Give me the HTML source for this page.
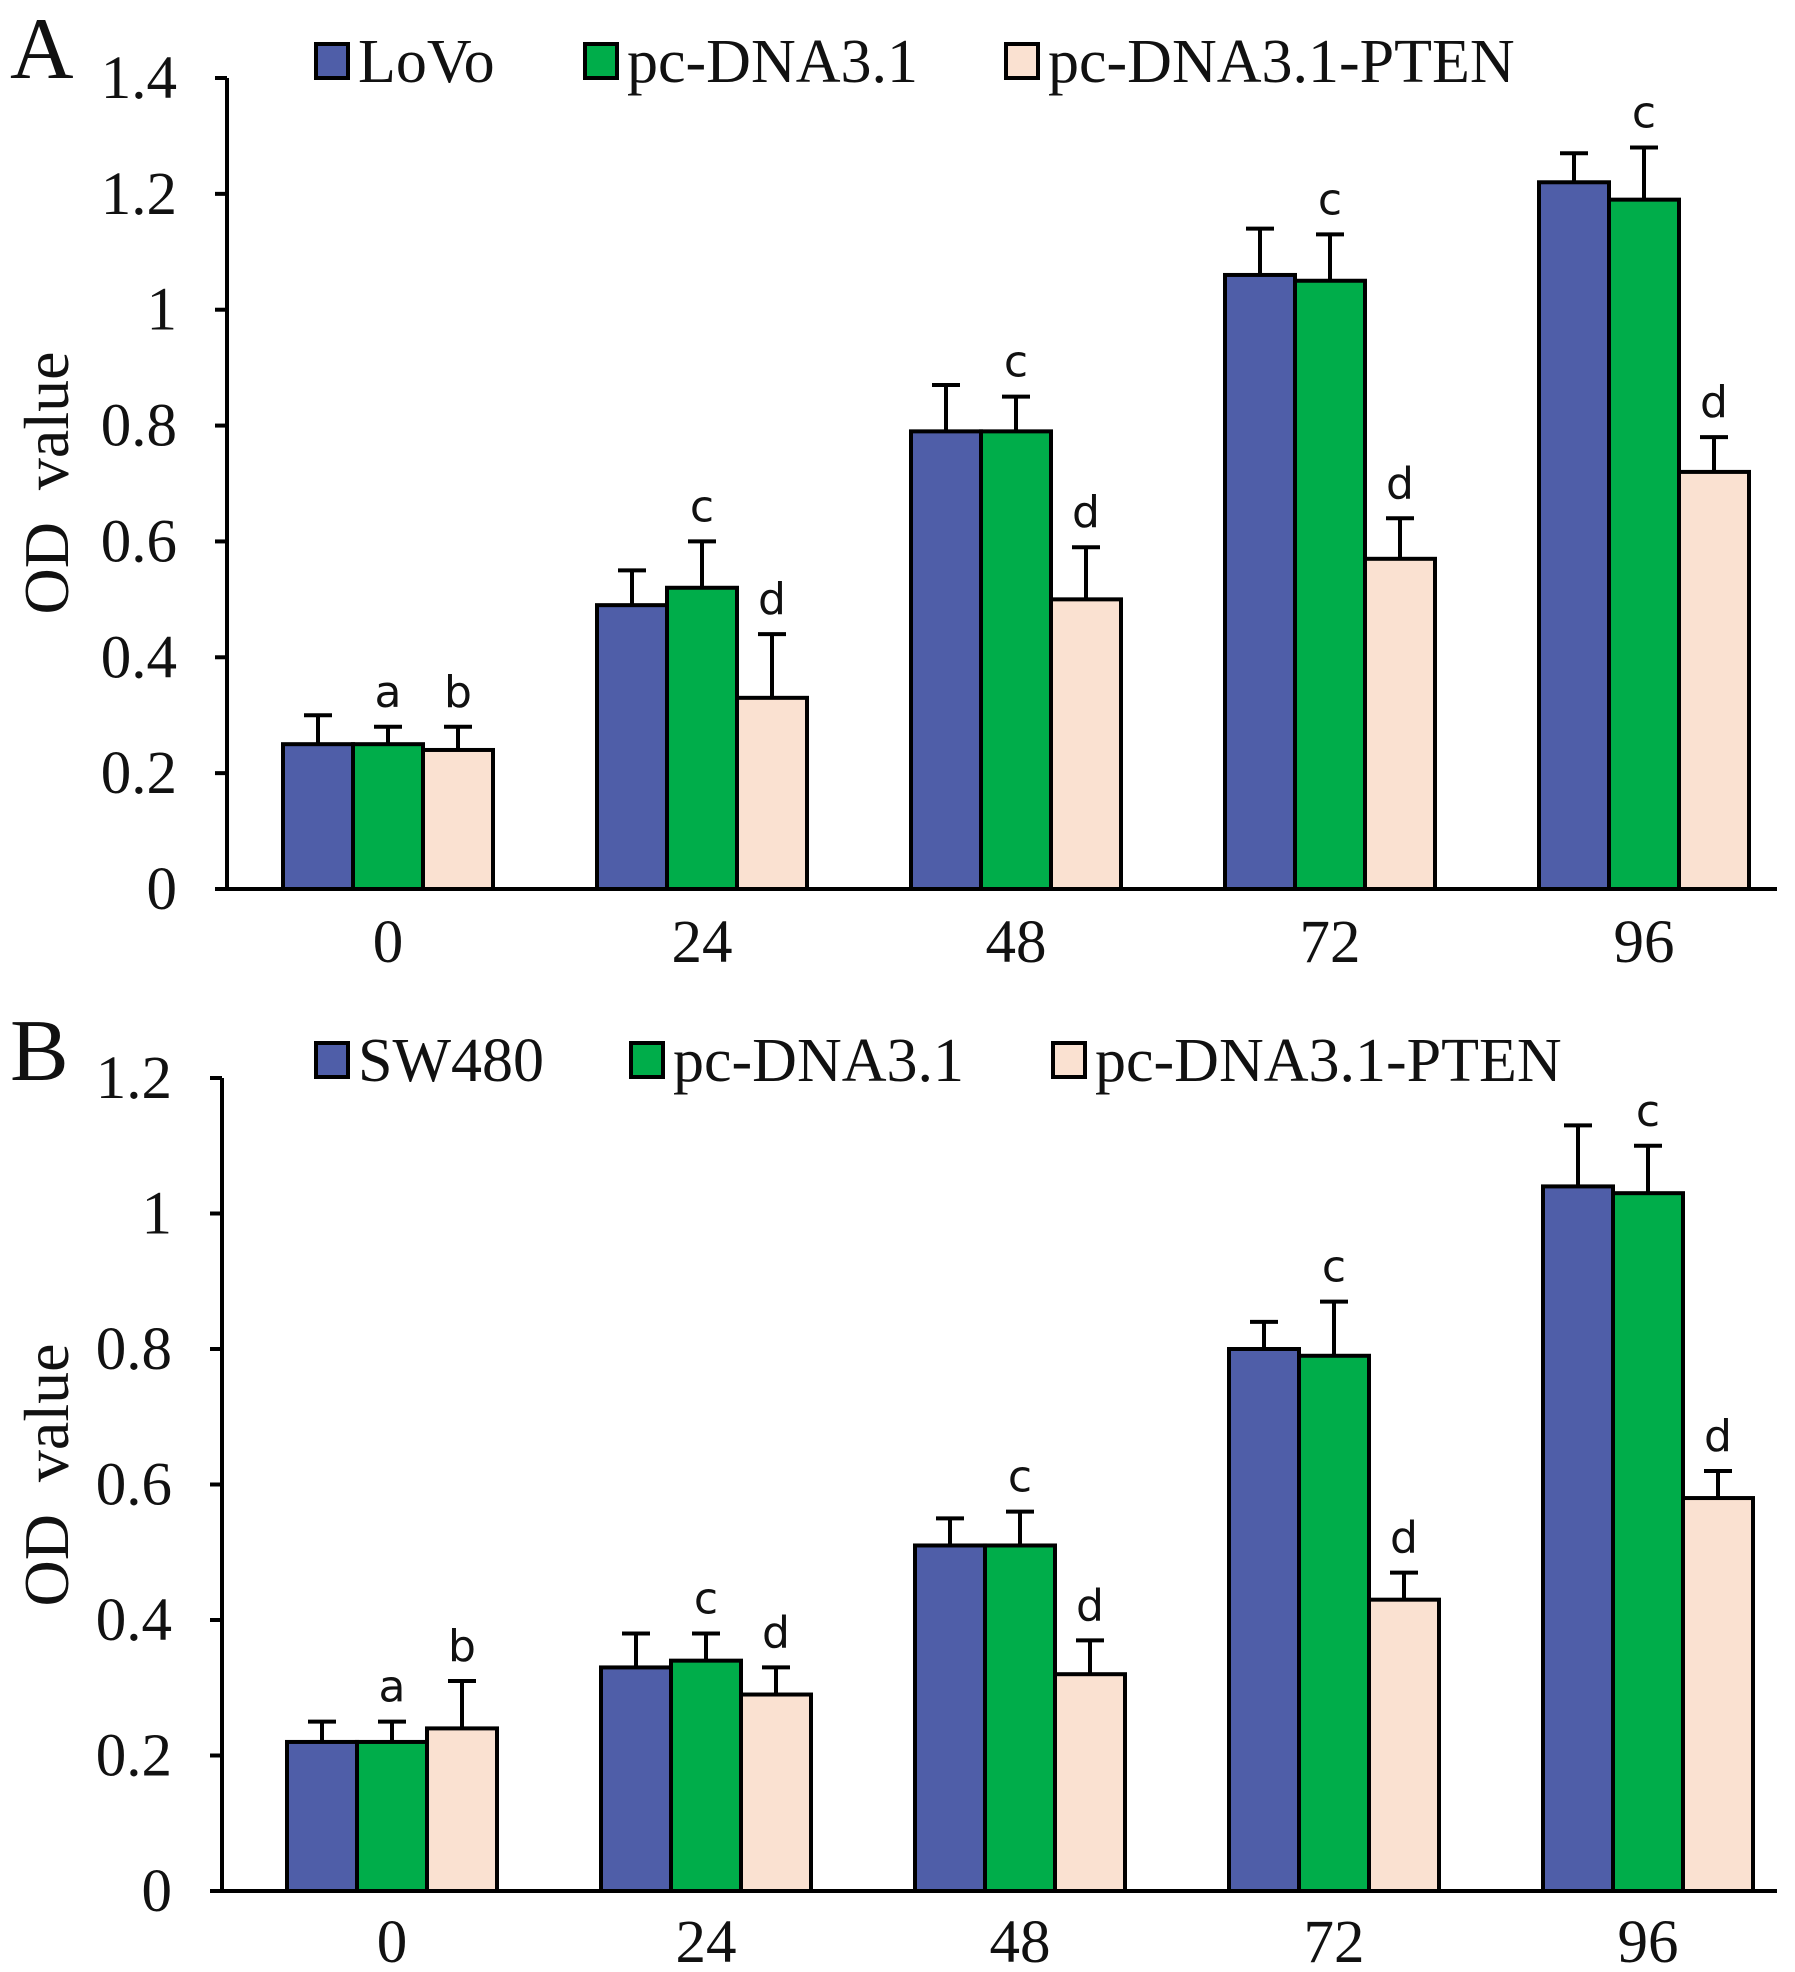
<!DOCTYPE html>
<html><head><meta charset="utf-8">
<style>
html,body{margin:0;padding:0;background:#fff;}
svg{display:block;}
.tk{font-family:"Liberation Serif",serif;font-size:61px;fill:#111;}
.lg{font-family:"Liberation Serif",serif;font-size:62px;fill:#111;}
.yt{font-family:"Liberation Serif",serif;font-size:64px;fill:#111;}
.sig{font-family:"DejaVu Sans","Liberation Sans",sans-serif;font-size:44px;fill:#111;}
</style></head>
<body>
<svg id="chart" width="1795" height="1972" viewBox="0 0 1795 1972" xmlns="http://www.w3.org/2000/svg">
<text x="10" y="78" font-family="Liberation Serif,serif" font-size="88" fill="#111">A</text>
<text x="10" y="1080" font-family="Liberation Serif,serif" font-size="88" fill="#111">B</text>
</svg>
<script>
const categories = ["0","24","48","72","96"];
const seriesNamesA = ["LoVo","pc-DNA3.1","pc-DNA3.1-PTEN"];
const seriesNamesB = ["SW480","pc-DNA3.1","pc-DNA3.1-PTEN"];
const lovoVals = [0.25,0.49,0.79,1.06,1.22];
const lovoErr = [0.05,0.06,0.08,0.08,0.05];
const pcAVals = [0.25,0.52,0.79,1.05,1.19];
const pcAErr = [0.03,0.08,0.06,0.08,0.09];
const ptenAVals = [0.24,0.33,0.50,0.57,0.72];
const ptenAErr = [0.04,0.11,0.09,0.07,0.06];
const sw480Vals = [0.22,0.33,0.51,0.80,1.04];
const sw480Err = [0.03,0.05,0.04,0.04,0.09];
const pcBVals = [0.22,0.34,0.51,0.79,1.03];
const pcBErr = [0.03,0.04,0.05,0.08,0.07];
const ptenBVals = [0.24,0.29,0.32,0.43,0.58];
const ptenBErr = [0.07,0.04,0.05,0.04,0.04];
const sigPc = ["a","c","c","c","c"];
const sigPten = ["b","d","d","d","d"];
const ticksA = [0,0.2,0.4,0.6,0.8,1,1.2,1.4];
const ticksB = [0,0.2,0.4,0.6,0.8,1,1.2];

const NS="http://www.w3.org/2000/svg";
const svg=document.getElementById('chart');
const colors=["#4f5ea8","#00ad4a","#fae1d1"];
function mk(tag,attrs,parent){const e=document.createElementNS(NS,tag);for(const k in attrs)e.setAttribute(k,attrs[k]);(parent||svg).appendChild(e);return e;}

function panel(cfg){
  const g=mk('g',{});
  
  
  const yMax=cfg.ticks[cfg.ticks.length-1];
  const y=v=>cfg.y0-(v/yMax)*(cfg.y0-cfg.yTop);
  const xc=i=>cfg.x0c+i*cfg.step;
  const ya=mk('line',{x1:cfg.ax,y1:cfg.yTop,x2:cfg.ax,y2:cfg.y0,stroke:'#000','stroke-width':4},g);
  
  
  cfg.ticks.forEach(t=>{
    mk('line',{x1:cfg.ax-12,y1:y(t),x2:cfg.ax,y2:y(t),stroke:'#000','stroke-width':4},g);
    const tx=mk('text',{x:cfg.ax-50,y:y(t)+20,'text-anchor':'end',class:'tk'},g);
    tx.textContent=String(t);
    
    
  });
  const yt=mk('text',{x:0,y:0,class:'yt','text-anchor':'middle',transform:`translate(${cfg.titleX},${cfg.titleY}) rotate(-90)`},g);
  yt.textContent='OD\u00a0\u00a0value';
  
  
  const series=[cfg.s0,cfg.s1,cfg.s2], errs=[cfg.e0,cfg.e1,cfg.e2];
  const bw=70;
  categories.forEach((c,i)=>{
    series.forEach((vals,s)=>{
      const left=xc(i)-1.5*bw+s*bw;
      const r=mk('rect',{x:left,y:y(vals[i]),width:bw,height:y(0)-y(vals[i]),fill:colors[s],stroke:'#000','stroke-width':4},g);
      
      
      const cx=left+bw/2, top=y(vals[i]+errs[s][i]);
      mk('line',{x1:cx,y1:y(vals[i]),x2:cx,y2:top,stroke:'#000','stroke-width':4},g);
      const cap=mk('line',{x1:cx-14,y1:top,x2:cx+14,y2:top,stroke:'#000','stroke-width':4},g);
      
      
      if(s>0){
        const st=mk('text',{x:cx,y:top-20,'text-anchor':'middle',class:'sig'},g);
        st.textContent=(s===1?sigPc:sigPten)[i];
        
        
      }
    });
    const xl=mk('text',{x:xc(i),y:cfg.xLabY,'text-anchor':'middle',class:'tk'},g);
    xl.textContent=c;
    
    
  });
  const xa=mk('line',{x1:cfg.ax-2,y1:cfg.y0,x2:1777,y2:cfg.y0,stroke:'#000','stroke-width':4},g);
  
  
  cfg.names.forEach((n,s)=>{
    const bx=cfg.legX[s];
    const lb=mk('rect',{x:bx,y:cfg.legY,width:32,height:34,fill:colors[s],stroke:'#000','stroke-width':4},g);
    
    
    const lt=mk('text',{x:bx+42,y:cfg.legY+38,class:'lg'},g);
    lt.textContent=n;
    
    
  });
}
panel({id:'panel-a',ticks:ticksA,y0:889,yTop:78,ax:227,x0c:388,step:314,xLabY:962,titleX:68,titleY:483,
  s0:lovoVals,s1:pcAVals,s2:ptenAVals,e0:lovoErr,e1:pcAErr,e2:ptenAErr,names:seriesNamesA,legX:[316,585,1006],legY:44});
panel({id:'panel-b',ticks:ticksB,y0:1891,yTop:1078,ax:222,x0c:392,step:314,xLabY:1962,titleX:68,titleY:1475,
  s0:sw480Vals,s1:pcBVals,s2:ptenBVals,e0:sw480Err,e1:pcBErr,e2:ptenBErr,names:seriesNamesB,legX:[316,631,1053],legY:1043});
</script>
</body></html>
